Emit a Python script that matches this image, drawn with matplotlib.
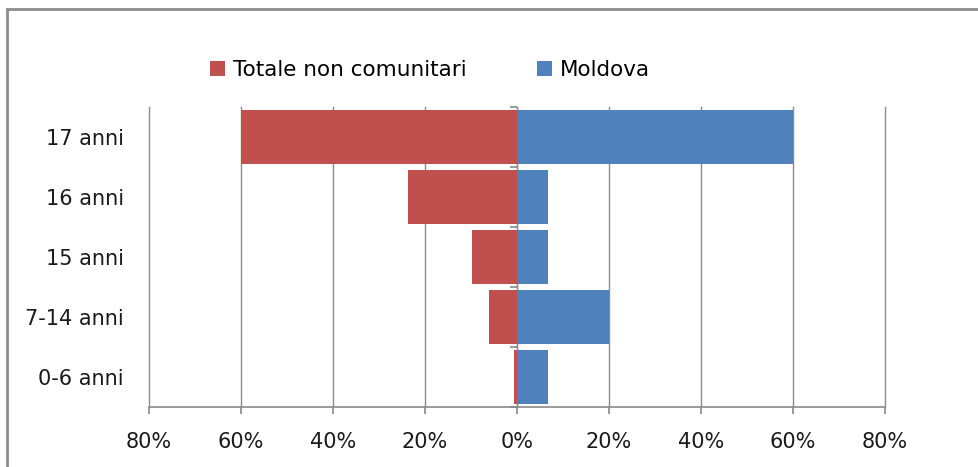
import matplotlib.pyplot as plt
from matplotlib.patches import Rectangle
from matplotlib.ticker import FuncFormatter

# Dati
categorie = ["0-6 anni", "7-14 anni", "15 anni", "16 anni", "17 anni"]
totale_non_comunitari = [0.6, 6.1, 9.8, 23.7, 60.0]
moldova = [6.7, 20.0, 6.7, 6.7, 60.0]

ROSSO = "#C0504D"
BLU = "#4F81BD"
GRIGIO = "#8a8a8a"

plt.rcParams["font.family"] = ["DejaVu Sans"]

W, H = 979, 467
fig = plt.figure(figsize=(W / 100, H / 100), dpi=100)
ax = fig.add_axes([149 / W, 1 - 407 / H, (885 - 149) / W, (407 - 107) / H])

pos = list(range(len(categorie)))
ax.barh(pos, [-v / 100 for v in totale_non_comunitari], height=0.9, color=ROSSO,
        label="Totale non comunitari", zorder=2)
ax.barh(pos, [v / 100 for v in moldova], height=0.9, color=BLU,
        label="Moldova", zorder=2)

ax.set_xlim(-0.8, 0.8)
ax.set_ylim(-0.5, len(categorie) - 0.5)
ax.set_xticks([-0.8, -0.6, -0.4, -0.2, 0, 0.2, 0.4, 0.6, 0.8])
ax.xaxis.set_major_formatter(FuncFormatter(lambda x, _: f"{abs(x) * 100:.0f}%"))
ax.set_yticks(pos)
ax.set_yticklabels(categorie)

ax.set_axisbelow(True)
ax.grid(axis="x", color=GRIGIO, linewidth=1.0)
for gl in ax.get_xgridlines():
    gl.set_clip_on(False)
for s in ["top", "right", "left"]:
    ax.spines[s].set_visible(False)
ax.spines["bottom"].set_color(GRIGIO)
ax.spines["bottom"].set_linewidth(1.2)
ax.tick_params(axis="x", direction="out", length=5, width=1.2, color=GRIGIO,
               pad=13, labelsize=15, labelcolor="#1a1a1a")
ax.tick_params(axis="y", length=0, pad=18, labelsize=15, labelcolor="#1a1a1a")

# asse verticale centrale con tacche tra le categorie
sec = ax.secondary_yaxis(0.5)
sec.set_yticks([p - 0.5 for p in pos] + [len(categorie) - 0.5])
sec.set_yticklabels([])
sec.spines["left"].set_color(GRIGIO)
sec.spines["left"].set_linewidth(1.2)
sec.tick_params(axis="y", direction="in", length=5, width=1.2, color=GRIGIO)

fig.legend(loc="center", bbox_to_anchor=(430 / W, 1 - 70 / H), ncol=2,
           frameon=False, fontsize=15.5, handlelength=0.7, handleheight=0.7,
           handletextpad=0.35, columnspacing=3.3)

fig.patches.append(Rectangle((7 / W, -0.1), 1.1, 1.1 - 9 / H, transform=fig.transFigure,
                             fill=False, edgecolor="#8c8c8c", linewidth=2))

fig.savefig("out.png", dpi=100)
